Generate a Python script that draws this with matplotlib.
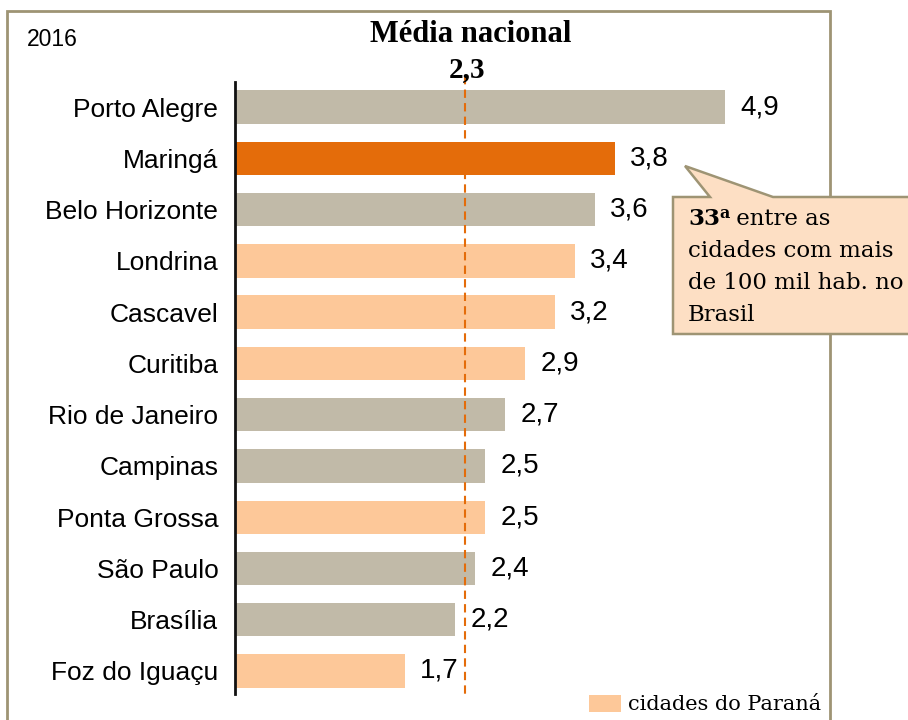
import matplotlib
matplotlib.use("Agg")
import matplotlib.pyplot as plt
from matplotlib.patches import Rectangle, Polygon

cities = ["Porto Alegre", "Maringá", "Belo Horizonte", "Londrina", "Cascavel",
          "Curitiba", "Rio de Janeiro", "Campinas", "Ponta Grossa", "São Paulo",
          "Brasília", "Foz do Iguaçu"]
values = [4.9, 3.8, 3.6, 3.4, 3.2, 2.9, 2.7, 2.5, 2.5, 2.4, 2.2, 1.7]
groups = ["outra", "destaque", "outra", "parana", "parana", "parana",
          "outra", "outra", "parana", "outra", "outra", "parana"]
national_avg = 2.3
year_label = "2016"
avg_title = "Média nacional"
avg_label = "2,3"
legend_label = "cidades do Paraná"
rank_num = "33"
rank_sup = "a"
callout_lines = ["entre as", "cidades com mais", "de 100 mil hab. no", "Brasil"]

palette = {"outra": "#C1BAA8", "destaque": "#E46C0A", "parana": "#FDC899"}
frame_col = "#9E9474"

W, H = 908, 720
fig = plt.figure(figsize=(W / 100, H / 100), dpi=100)
fig.patch.set_facecolor("white")

def fx(x):
    return x / W

def fy(y):
    return 1 - y / H

# axes placed in pixel coordinates
ax_l, ax_r, ax_t, ax_b = 235, 830, 82, 694
ax = fig.add_axes([fx(ax_l), fy(ax_b), (ax_r - ax_l) / W, (ax_b - ax_t) / H])
ax.set_facecolor("none")
ypos = list(range(len(cities)))
cols = [palette[g] for g in groups]
ax.barh(ypos, values, height=0.65, color=cols, zorder=2)
ax.set_xlim(0, 5.95)
ax.set_ylim(len(cities) - 0.55, -0.49)
for s in ["top", "right", "bottom"]:
    ax.spines[s].set_visible(False)
ax.spines["left"].set_linewidth(2)
ax.spines["left"].set_color("#111111")
ax.set_xticks([])
ax.set_yticks(ypos)
ax.set_yticklabels(cities, fontsize=19, family="Liberation Sans")
ax.tick_params(axis="y", length=0, pad=12)

for y, v in zip(ypos, values):
    ax.annotate(f"{v:.1f}".replace(".", ","), (v, y), xytext=(11, 0),
                textcoords="offset points", ha="left", va="center",
                fontsize=20, family="Liberation Sans", zorder=5)

# national average dashed line
ax.plot([national_avg, national_avg], [-0.6, len(cities) - 0.55],
        ls=(0, (4, 2.5)), color="#E46C0A", lw=1.5, clip_on=False, zorder=3)

# frame
fig.patches.append(Rectangle((fx(7), fy(725)), fx(830) - fx(7), fy(11) - fy(725),
                             transform=fig.transFigure, fill=False,
                             edgecolor=frame_col, lw=2))

fig.text(fx(27), fy(39), year_label, fontsize=16.5, family="Liberation Sans",
         va="center", ha="left")
fig.text(fx(471), fy(34), avg_title, fontsize=22, family="Liberation Serif",
         weight="bold", ha="center", va="center")
fig.text(fx(467), fy(70), avg_label, fontsize=21, family="Liberation Serif",
         weight="bold", ha="center", va="center")

# callout
pts = [(685, 166), (710, 197), (673, 197), (673, 334), (912, 334), (912, 197),
       (773, 197)]
fig.patches.append(Polygon([(fx(x), fy(y)) for x, y in pts], closed=True,
                           transform=fig.transFigure, facecolor="#FDDFC4",
                           edgecolor=frame_col, lw=1.8, zorder=10))
line_y = [219, 251, 283, 315]
fig.text(fx(688), fy(line_y[0]), rank_num, fontsize=16.5, family="DejaVu Serif",
         weight="bold", ha="left", va="center", zorder=11)
fig.text(fx(719), fy(line_y[0] - 6), rank_sup, fontsize=11.5, family="DejaVu Serif",
         weight="bold", ha="left", va="center", zorder=11)
fig.text(fx(729), fy(line_y[0]), " " + callout_lines[0], fontsize=16.5,
         family="DejaVu Serif", ha="left", va="center", zorder=11)
for ly, t in zip(line_y[1:], callout_lines[1:]):
    fig.text(fx(688), fy(ly), t, fontsize=16.5, family="DejaVu Serif",
             ha="left", va="center", zorder=11)

# legend
fig.patches.append(Rectangle((fx(589), fy(712)), fx(621) - fx(589), fy(695) - fy(712),
                             transform=fig.transFigure, facecolor=palette["parana"],
                             edgecolor="none"))
fig.text(fx(628), fy(705), legend_label, fontsize=15, family="DejaVu Serif",
         ha="left", va="center")

fig.savefig("out.png", dpi=100)
